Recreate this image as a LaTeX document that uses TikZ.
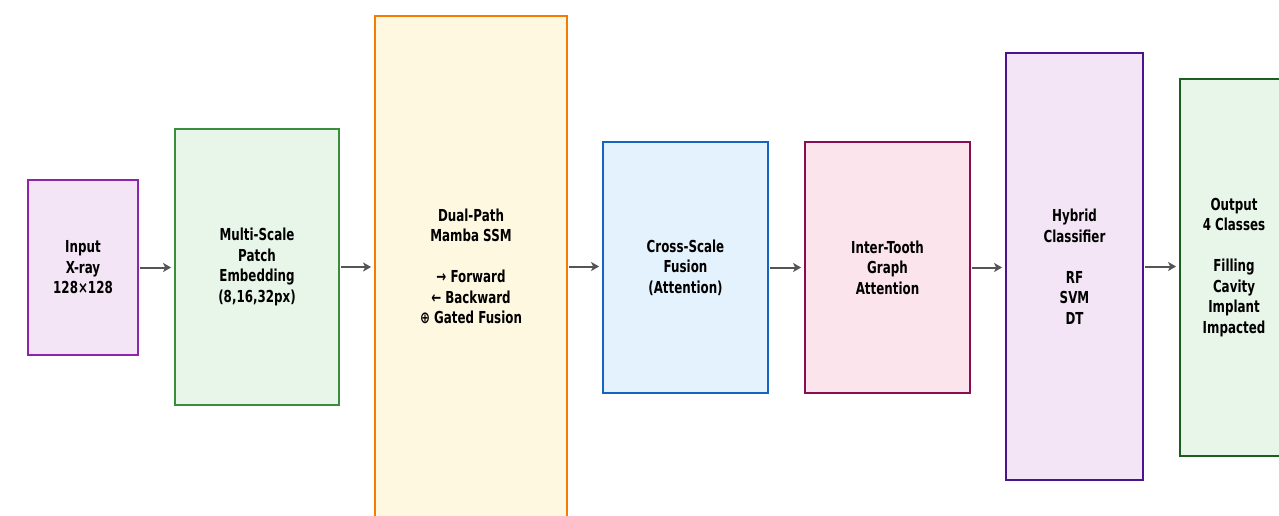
\documentclass[tikz,border=0pt]{standalone}
\usepackage{fontspec}
\newfontfamily\lab{DejaVu Sans}[FakeStretch=0.72]
\usetikzlibrary{arrows.meta}
\definecolor{inB}{HTML}{8E24AA}\definecolor{inF}{HTML}{F3E5F5}
\definecolor{muB}{HTML}{388E3C}\definecolor{muF}{HTML}{E8F5E9}
\definecolor{duB}{HTML}{F57C00}\definecolor{duF}{HTML}{FFF8E1}
\definecolor{crB}{HTML}{1565C0}\definecolor{crF}{HTML}{E3F2FD}
\definecolor{itB}{HTML}{880E4F}\definecolor{itF}{HTML}{FCE4EC}
\definecolor{hyB}{HTML}{4A148C}\definecolor{hyF}{HTML}{F3E5F5}
\definecolor{ouB}{HTML}{1B5E20}\definecolor{ouF}{HTML}{E8F5E9}
\definecolor{arr}{HTML}{555555}
\tikzset{
  blk/.style={draw, line width=1.8pt, inner sep=0pt, align=center,
    font=\lab\bfseries\fontsize{16.5}{20.5}\selectfont, text=black},
  flow/.style={draw=arr, line width=2pt, -{Stealth[length=8pt,width=9pt,inset=2pt]},
    shorten <=1pt, shorten >=3pt}
}
\begin{document}
\begin{tikzpicture}[x=1pt,y=1pt]
\useasboundingbox (0,0) rectangle (1279,515);
\node[blk, draw=inB, fill=inF, minimum width=110pt, minimum height=175pt] (in) at (83,247.5) {Input\\X-ray\\128×128};
\node[blk, draw=muB, fill=muF, minimum width=164pt, minimum height=276pt] (mu) at (257,248) {Multi-Scale\\Patch\\Embedding\\(8,16,32px)};
\node[blk, draw=duB, fill=duF, minimum width=192pt, minimum height=501pt] (du) at (471,248.5) {Dual-Path\\Mamba SSM\\[20.5pt]→ Forward\\← Backward\\⊕ Gated Fusion};
\node[blk, draw=crB, fill=crF, minimum width=165pt, minimum height=251pt] (cr) at (685.5,247.5) {Cross-Scale\\Fusion\\(Attention)};
\node[blk, draw=itB, fill=itF, minimum width=165pt, minimum height=251pt] (it) at (887.5,247.5) {Inter-Tooth\\Graph\\Attention};
\node[blk, draw=hyB, fill=hyF, minimum width=137pt, minimum height=427pt] (hy) at (1074.5,248.5) {Hybrid\\Classifier\\[20.5pt]RF\\SVM\\DT};
\node[blk, draw=ouB, fill=ouF, minimum width=108pt, minimum height=377pt] (ou) at (1234,247.5) {Output\\4 Classes\\[20.5pt]Filling\\Cavity\\Implant\\Impacted};
\draw[flow] (in.east) -- (in.east -| mu.west);
\draw[flow] (mu.east) -- (mu.east -| du.west);
\draw[flow] (du.east) -- (du.east -| cr.west);
\draw[flow] (cr.east) -- (cr.east -| it.west);
\draw[flow] (it.east) -- (it.east -| hy.west);
\draw[flow] (hy.east) -- (hy.east -| ou.west);
\end{tikzpicture}
\end{document}
